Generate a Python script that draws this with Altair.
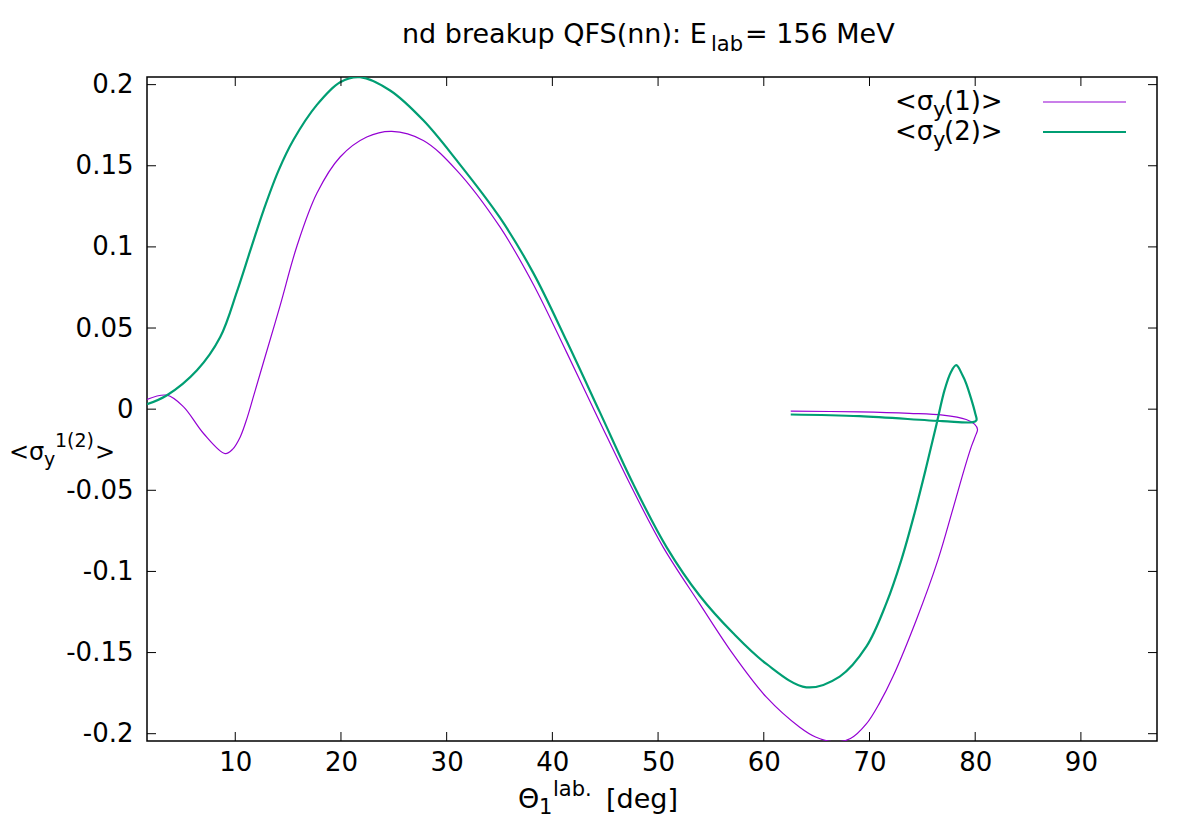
import altair as alt
import pandas as pd

# ---------------- data ----------------
theta_s1 = [1.65, 3.54, 5.11, 7.00, 9.05, 9.76, 10.47, 11.13, 11.73, 12.67, 14.25,
            15.83, 17.72, 19.92, 22.44, 24.81, 27.79, 30.95, 35.04, 38.19, 41.35,
            44.5, 47.64, 50.48, 53.94, 57.09, 60.25, 63.40, 64.90, 66.70, 68.20,
            69.70, 70.96, 72.22, 74.43, 76.47, 77.86, 79.0, 79.65, 80.05, 80.22,
            79.94, 79.15, 76.94, 73.79, 69.07, 62.55]
sigma_s1 = [0.0060, 0.0086, 0.0014, -0.0150, -0.0274, -0.0246, -0.0171, -0.0052, 0.0080,
            0.0289, 0.0640, 0.1004, 0.1330, 0.1554, 0.1677, 0.1712, 0.1656, 0.1472,
            0.1123, 0.0770, 0.0350, -0.0080, -0.0500, -0.0850, -0.1200, -0.1510,
            -0.1775, -0.1960, -0.2020, -0.2050, -0.2030, -0.1940, -0.1810, -0.1648,
            -0.1299, -0.0930, -0.0622, -0.0363, -0.0228, -0.0160, -0.0125, -0.0092,
            -0.0064, -0.0037, -0.0026, -0.0017, -0.0012]

theta_s2 = [1.65, 3.54, 6.38, 8.58, 10.16, 11.41, 12.70, 14.09, 15.51, 17.72, 19.92,
            21.81, 24.65, 27.79, 30.95, 35.04, 38.19, 41.35, 44.5, 47.64, 50.80,
            53.94, 57.09, 60.25, 64.03, 67.18, 69.70, 71.59, 73.01, 74.27, 75.37,
            76.32, 77.10, 77.70, 78.21, 78.80, 79.15, 79.60, 80.00, 80.12, 79.80,
            76.91, 69.07, 62.55]
sigma_s2 = [0.0030, 0.0086, 0.0240, 0.0445, 0.0725, 0.0975, 0.1230, 0.1470, 0.1660,
            0.1875, 0.2015, 0.2046, 0.1964, 0.1780, 0.1533, 0.1180, 0.0840, 0.0420,
            -0.0020, -0.0460, -0.0850, -0.1150, -0.1380, -0.1570, -0.1714, -0.1648,
            -0.1464, -0.1197, -0.0930, -0.0640, -0.0357, -0.0099, 0.0117, 0.0228,
            0.0271, 0.0209, 0.0158, 0.0068, -0.0025, -0.0068, -0.0080, -0.0074,
            -0.0043, -0.0033]

x_ticks = [10, 20, 30, 40, 50, 60, 70, 80, 90]
y_ticks = [-0.2, -0.15, -0.1, -0.05, 0, 0.05, 0.1, 0.15, 0.2]
x_domain = [1.65, 97.2]
y_domain = [-0.2045, 0.2047]

# ---------------- layout ----------------
X0, Y0 = 147, 77          # page position of plot-area top-left
W, H = 1010, 664
FONT = "DejaVu Sans"
FS = 26
PURPLE = "#9400d3"
GREEN = "#009e73"

df1 = pd.DataFrame({"theta": theta_s1, "sigma": sigma_s1, "idx": list(range(len(theta_s1)))})
df2 = pd.DataFrame({"theta": theta_s2, "sigma": sigma_s2, "idx": list(range(len(theta_s2)))})
xt = pd.DataFrame({"v": x_ticks})
yt = pd.DataFrame({"v": y_ticks})
one = pd.DataFrame({"k": [0]})

xscale = alt.Scale(domain=x_domain, nice=False, zero=False)
yscale = alt.Scale(domain=y_domain, nice=False, zero=False)

xaxis = alt.Axis(values=x_ticks, ticks=False, tickSize=0, domain=False, grid=False,
                 labelFont=FONT, labelFontSize=FS, labelColor="black", labelPadding=8,
                 labelFlush=False, labelExpr="'' + datum.value", title=None)
yaxis = alt.Axis(values=y_ticks, ticks=False, tickSize=0, domain=False, grid=False,
                 labelFont=FONT, labelFontSize=FS, labelColor="black", labelPadding=14,
                 labelFlush=False, labelExpr="'' + datum.value", title=None)


def X(field):
    return alt.X(field, type="quantitative", scale=xscale, axis=xaxis)


def Y(field):
    return alt.Y(field, type="quantitative", scale=yscale, axis=yaxis)


line1 = alt.Chart(df1).mark_line(color=PURPLE, strokeWidth=1.2, interpolate="catmull-rom",
                                 clip=True).encode(x=X("theta"), y=Y("sigma"), order="idx:Q")
line2 = alt.Chart(df2).mark_line(color=GREEN, strokeWidth=2.2, interpolate="catmull-rom",
                                 clip=True).encode(x=X("theta"), y=Y("sigma"), order="idx:Q")

TL = 9
tick_b = alt.Chart(xt).mark_rule(color="black", strokeWidth=1).encode(
    x=X("v"), y=alt.value(H), y2=alt.value(H - TL))
tick_t = alt.Chart(xt).mark_rule(color="black", strokeWidth=1).encode(
    x=X("v"), y=alt.value(0), y2=alt.value(TL))
tick_l = alt.Chart(yt).mark_rule(color="black", strokeWidth=1).encode(
    y=Y("v"), x=alt.value(0), x2=alt.value(TL))
tick_r = alt.Chart(yt).mark_rule(color="black", strokeWidth=1).encode(
    y=Y("v"), x=alt.value(W), x2=alt.value(W - TL))


def txt(s, px, py, size=FS, align="left"):
    return alt.Chart(one).mark_text(text=s, align=align, baseline="alphabetic", font=FONT,
                                    fontSize=size, color="black").encode(
        x=alt.value(px - X0), y=alt.value(py - Y0))


def seg(color, width, px1, px2, py):
    return alt.Chart(one).mark_rule(color=color, strokeWidth=width).encode(
        x=alt.value(px1 - X0), x2=alt.value(px2 - X0), y=alt.value(py - Y0))


annot = [
    # title
    txt("nd breakup QFS(nn): E", 402, 43, 27),
    txt("lab", 711, 51, 21),
    txt("=  156 MeV", 745, 43, 27),
    # y-axis title
    txt("<σ", 9, 460, 24),
    txt("y", 44, 466, 19),
    txt("1(2)", 55, 447, 19),
    txt(">", 95, 460, 24),
    # x-axis title
    txt("Θ", 518, 808, 27),
    txt("1", 539, 814, 21),
    txt("lab.", 553, 796, 21),
    txt("[deg]", 606, 808, 27),
    # legend
    txt("<σ", 895, 110),
    txt("y", 933, 117, 21),
    txt("(1)>", 944, 110),
    txt("<σ", 895, 140),
    txt("y", 933, 147, 21),
    txt("(2)>", 944, 140),
    seg(PURPLE, 1.2, 1043, 1126, 102),
    seg(GREEN, 2.2, 1043, 1126, 132),
]

chart = alt.layer(line1, line2, tick_b, tick_t, tick_l, tick_r, *annot).properties(
    width=W, height=H,
    autosize=alt.AutoSizeParams(type="none"),
    padding={"left": X0 - 8, "top": Y0 - 8, "right": 30, "bottom": 80},
    background="white",
).configure_view(stroke="black", strokeWidth=1.5)

chart.save("out.html", embed_options={"renderer": "svg", "actions": False})
